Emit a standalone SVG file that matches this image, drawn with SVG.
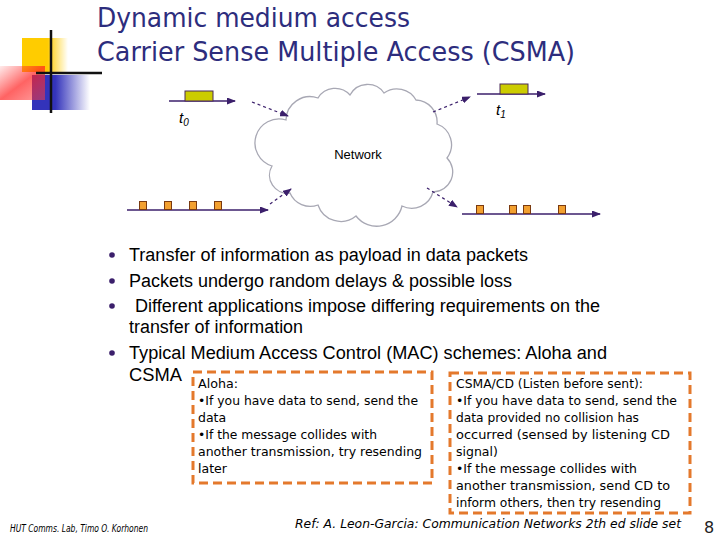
<svg xmlns="http://www.w3.org/2000/svg" width="720" height="540" viewBox="0 0 720 540">
<style>
.title{font-family:"DejaVu Sans",sans-serif;font-size:26px;fill:#2d2d7d}
.bul{font-family:"Liberation Sans",Arial,sans-serif;font-size:18px;fill:#000}
.box{font-family:"DejaVu Sans",sans-serif;font-size:12.5px;fill:#000}
.wire{stroke:#3b1f6b;stroke-width:1.5;fill:none}
.dash{stroke:#3b1f6b;stroke-width:1.2;fill:none;stroke-dasharray:3 3}
.pk{fill:#cccc00;stroke:#4a2a5a;stroke-width:1}
.sq{fill:#f2a030;stroke:#7a3a10;stroke-width:1}
.frame{fill:none;stroke:#e4792c;stroke-width:3;stroke-dasharray:9 5}
.dot{fill:#3b1f6b}
.foot{font-family:"DejaVu Sans",sans-serif;font-style:italic;fill:#000}
</style>
<defs>
<marker id="ah" markerWidth="9" markerHeight="7" refX="8" refY="3.5" orient="auto" markerUnits="userSpaceOnUse">
<path d="M0,0 L9,3.5 L0,7 z" fill="#3b1f6b"/>
</marker>
<linearGradient id="gy" x1="0" x2="1" y1="0" y2="0">
<stop offset="0" stop-color="#ffcc00"/><stop offset="0.55" stop-color="#ffcc00"/><stop offset="1" stop-color="#ffcc00" stop-opacity="0"/>
</linearGradient>
<linearGradient id="gb" x1="0" x2="1" y1="0" y2="0">
<stop offset="0" stop-color="#3333bb"/><stop offset="0.4" stop-color="#3333bb"/><stop offset="1" stop-color="#3333bb" stop-opacity="0"/>
</linearGradient>
<linearGradient id="gr" x1="0" x2="1" y1="0" y2="1">
<stop offset="0" stop-color="#ff3030" stop-opacity="0.1"/><stop offset="0.5" stop-color="#ff2020" stop-opacity="0.7"/><stop offset="1" stop-color="#ff4040" stop-opacity="0.5"/>
</linearGradient>
</defs>

<g id="logo">
<rect x="22" y="38" width="46" height="34" fill="url(#gy)"/>
<rect x="32" y="75" width="58" height="35" fill="url(#gb)"/>
<rect x="0" y="66" width="45" height="34" fill="url(#gr)"/>
<line x1="51" y1="30" x2="51" y2="113" stroke="#111" stroke-width="2.5"/>
<line x1="36" y1="73" x2="102" y2="73" stroke="#111" stroke-width="2.5"/>
</g>

<g id="title">
<text class="title" x="97" y="27" textLength="313" lengthAdjust="spacingAndGlyphs">Dynamic medium access</text>
<text class="title" x="97" y="61" textLength="478" lengthAdjust="spacingAndGlyphs">Carrier Sense Multiple Access (CSMA)</text>
</g>

<g id="cloud">
<path d="M286,120 A24 24 0 0 1 318,98 A20 20 0 0 1 350,95 A20 20 0 0 1 384,93 A22 22 0 0 1 416,100 A22 22 0 0 1 437,124 A22 22 0 0 1 447,158 A20 20 0 0 1 433,192 A22 22 0 0 1 402,206 A26 26 0 0 1 356,216 A24 24 0 0 1 318,205 A22 22 0 0 1 290,193 A18 18 0 0 1 272,166 A20 20 0 0 1 286,120 Z" fill="#fff" stroke="#a8a8b4" stroke-width="1.3"/>
<text x="358" y="159" font-family="Liberation Sans,Arial,sans-serif" font-size="13" text-anchor="middle" fill="#000">Network</text>
</g>

<g id="sender-top">
<line class="wire" x1="169" y1="101" x2="235" y2="101" marker-end="url(#ah)"/>
<rect class="pk" x="185" y="91" width="28" height="10"/>
<text x="179" y="123" font-family="Liberation Sans,Arial,sans-serif" font-style="italic" font-size="15" fill="#000">t<tspan font-size="10" dy="3">0</tspan></text>
</g>

<g id="receiver-top">
<line class="wire" x1="477" y1="94" x2="545" y2="94" marker-end="url(#ah)"/>
<rect class="pk" x="500" y="84" width="28" height="10"/>
<text x="496" y="115" font-family="Liberation Sans,Arial,sans-serif" font-style="italic" font-size="15" fill="#000">t<tspan font-size="10" dy="3">1</tspan></text>
</g>

<g id="sender-bottom">
<line class="wire" x1="127" y1="210" x2="268" y2="210" marker-end="url(#ah)"/>
<rect class="sq" x="139.5" y="201.5" width="7" height="8"/>
<rect class="sq" x="164.5" y="201.5" width="7" height="8"/>
<rect class="sq" x="189.5" y="201.5" width="7" height="8"/>
<rect class="sq" x="214.5" y="201.5" width="7" height="8"/>
</g>

<g id="receiver-bottom">
<line class="wire" x1="462" y1="214" x2="600" y2="214" marker-end="url(#ah)"/>
<rect class="sq" x="476.5" y="205.5" width="7" height="8"/>
<rect class="sq" x="509.5" y="205.5" width="7" height="8"/>
<rect class="sq" x="523.5" y="205.5" width="7" height="8"/>
<rect class="sq" x="558.5" y="205.5" width="7" height="8"/>
</g>

<g id="connectors">
<line class="dash" x1="252" y1="102" x2="288" y2="116" marker-end="url(#ah)"/>
<line class="dash" x1="433" y1="112" x2="470" y2="97" marker-end="url(#ah)"/>
<line class="dash" x1="270" y1="204" x2="291" y2="189" marker-end="url(#ah)"/>
<line class="dash" x1="427" y1="188" x2="457" y2="207" marker-end="url(#ah)"/>
</g>

<g id="bullets">
<circle class="dot" cx="112" cy="255" r="2.8"/>
<circle class="dot" cx="112" cy="281" r="2.8"/>
<circle class="dot" cx="112" cy="306" r="2.8"/>
<circle class="dot" cx="112" cy="353" r="2.8"/>
<text class="bul" x="129" y="261" textLength="399" lengthAdjust="spacingAndGlyphs">Transfer of information as payload in data packets</text>
<text class="bul" x="129" y="287" textLength="383" lengthAdjust="spacingAndGlyphs">Packets undergo random delays &amp; possible loss</text>
<text class="bul" x="135" y="312" textLength="465" lengthAdjust="spacingAndGlyphs">Different applications impose differing requirements on the</text>
<text class="bul" x="129" y="333" textLength="174" lengthAdjust="spacingAndGlyphs">transfer of information</text>
<text class="bul" x="129" y="359" textLength="478" lengthAdjust="spacingAndGlyphs">Typical Medium Access Control (MAC) schemes: Aloha and</text>
<text class="bul" x="129" y="381" textLength="53" lengthAdjust="spacingAndGlyphs">CSMA</text>
</g>

<g id="aloha-box">
<rect class="frame" x="193" y="372" width="239" height="111"/>
<text class="box" x="198" y="388" textLength="40" lengthAdjust="spacingAndGlyphs">Aloha:</text>
<text class="box" x="198" y="405" textLength="220" lengthAdjust="spacingAndGlyphs">•If you have data to send, send the</text>
<text class="box" x="198" y="422">data</text>
<text class="box" x="198" y="439" textLength="179" lengthAdjust="spacingAndGlyphs">•If the message collides with</text>
<text class="box" x="198" y="456" textLength="224" lengthAdjust="spacingAndGlyphs">another transmission, try resending</text>
<text class="box" x="198" y="473">later</text>
</g>

<g id="csma-box">
<rect class="frame" x="450" y="373" width="240" height="140"/>
<text class="box" x="456" y="388" textLength="187" lengthAdjust="spacingAndGlyphs">CSMA/CD (Listen before sent):</text>
<text class="box" x="456" y="405" textLength="221" lengthAdjust="spacingAndGlyphs">•If you have data to send, send the</text>
<text class="box" x="456" y="422" textLength="183" lengthAdjust="spacingAndGlyphs">data provided no collision has</text>
<text class="box" x="456" y="439" textLength="214" lengthAdjust="spacingAndGlyphs">occurred (sensed by listening CD</text>
<text class="box" x="456" y="456">signal)</text>
<text class="box" x="456" y="473" textLength="181" lengthAdjust="spacingAndGlyphs">•If the message collides with</text>
<text class="box" x="456" y="490" textLength="214" lengthAdjust="spacingAndGlyphs">another transmission, send CD to</text>
<text class="box" x="456" y="507" textLength="205" lengthAdjust="spacingAndGlyphs">inform others, then try resending</text>
</g>

<g id="footer">
<text class="foot" x="10" y="532" font-size="10" textLength="138" lengthAdjust="spacingAndGlyphs">HUT Comms. Lab, Timo O. Korhonen</text>
<text class="foot" x="295" y="528" font-size="13" textLength="386" lengthAdjust="spacingAndGlyphs">Ref: A. Leon-Garcia: Communication Networks 2th ed slide set</text>
<text x="704" y="533" font-family="DejaVu Sans,sans-serif" font-size="16" fill="#222">8</text>
</g>
</svg>
